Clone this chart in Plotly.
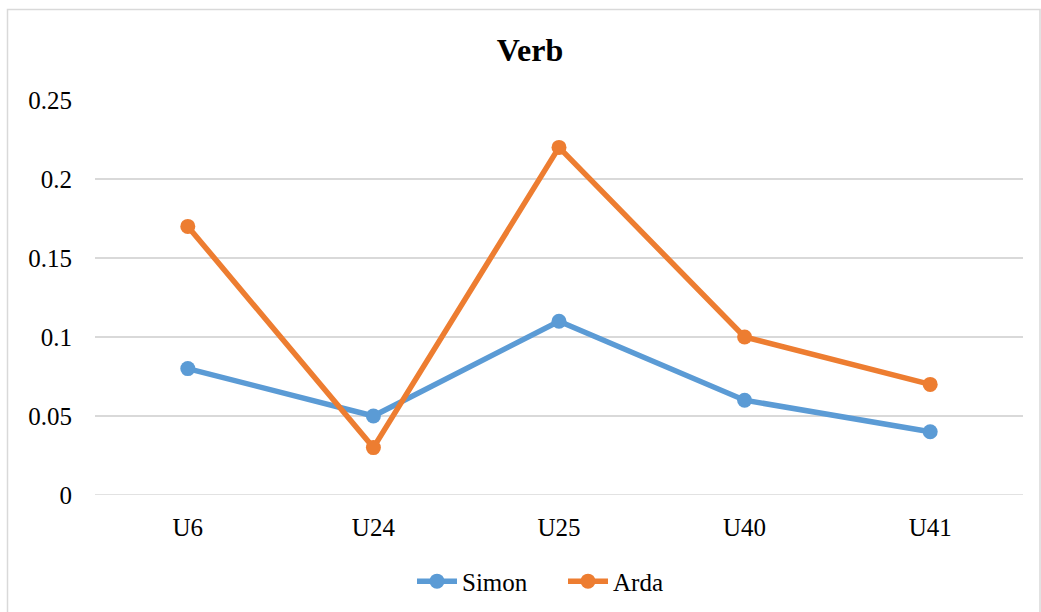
import plotly.graph_objects as go

categories = ["U6", "U24", "U25", "U40", "U41"]
simon = [0.08, 0.05, 0.11, 0.06, 0.04]
arda = [0.17, 0.03, 0.22, 0.10, 0.07]
y_ticks = [0, 0.05, 0.1, 0.15, 0.2, 0.25]
y_tick_labels = ["0", "0.05", "0.1", "0.15", "0.2", "0.25"]

W, H = 1041, 612
L, R, T, B = 95, 18, 100, 116.5
pw, ph = W - L - R, H - T - B

font = "Liberation Serif, Times New Roman, serif"

fig = go.Figure()
fig.add_trace(go.Scatter(x=categories, y=simon, name="Simon", mode="lines+markers",
                         line=dict(color="#5B9BD5", width=5.5),
                         marker=dict(size=15, color="#5B9BD5")))
fig.add_trace(go.Scatter(x=categories, y=arda, name="Arda", mode="lines+markers",
                         line=dict(color="#ED7D31", width=5.5),
                         marker=dict(size=15, color="#ED7D31")))

def px_x(x):
    return (x - L) / pw

def px_y(y):
    return (H - B - y) / ph

fig.add_shape(type="rect", xref="paper", yref="paper",
              x0=px_x(7.5), x1=px_x(1040), y0=px_y(640), y1=px_y(9.5),
              line=dict(color="#D9D9D9", width=1.5), fillcolor="rgba(0,0,0,0)", layer="below")

fig.update_layout(
    width=W, height=H,
    margin=dict(l=L, r=R, t=T, b=B, autoexpand=False),
    paper_bgcolor="white", plot_bgcolor="white",
    font=dict(family=font, size=25, color="black"),
    title=dict(text="<b>Verb</b>", x=530 / W, xanchor="center", y=1 - 50 / H, yanchor="middle",
               font=dict(family=font, size=32, color="black")),
    xaxis=dict(range=[-0.5, 4.5], showgrid=False, zeroline=False, showline=False,
               automargin=False,
               ticks="", ticklabelstandoff=15, tickfont=dict(family=font, size=25, color="black")),
    yaxis=dict(range=[0, 0.25], tickvals=y_ticks, ticktext=y_tick_labels,
               showgrid=True, gridcolor="#D9D9D9", gridwidth=1.5, automargin=False,
               zeroline=False, showline=False, ticks="", ticklabelstandoff=22,
               tickfont=dict(family=font, size=25, color="black")),
    legend=dict(orientation="h", x=px_x(412), xanchor="left", y=px_y(582), yanchor="middle",
                font=dict(family=font, size=25, color="black"), itemwidth=40,
                entrywidth=96, entrywidthmode="pixels", traceorder="normal"),
    showlegend=True,
)
fig.add_shape(type="line", xref="paper", yref="y", x0=0, x1=1, y0=0, y1=0,
              line=dict(color="#D9D9D9", width=1.5), layer="below")

fig.write_html("out.html", config={"displayModeBar": False},
               post_script="document.body.style.margin='0';document.body.style.overflow='hidden';")
